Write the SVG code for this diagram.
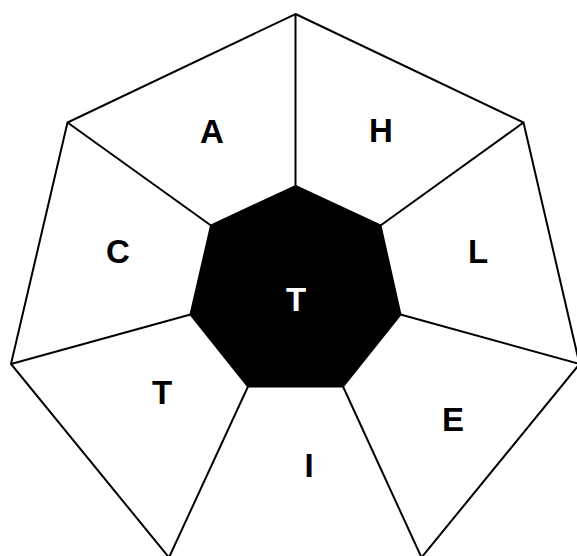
<svg xmlns="http://www.w3.org/2000/svg" width="577" height="556" viewBox="0 0 577 556">
<style>
.edge{fill:none;stroke:#000;stroke-width:2;stroke-linejoin:miter}
.lbl{font-family:"Liberation Sans",Arial,sans-serif;font-weight:bold;font-size:33px;text-anchor:middle;fill:#000}
.ctr{fill:#fff}
</style>
<rect width="577" height="556" fill="#fff"/>
<g id="connectors">
<polygon class="edge" points="295.5,14 523.5,122.5 579.5,364 421.5,557.5 169,557.5 11,364 67.5,122.5"/>
<line class="edge" x1="295.5" y1="14" x2="295.5" y2="186"/>
<line class="edge" x1="523.5" y1="122.5" x2="380.5" y2="225.5"/>
<line class="edge" x1="579.5" y1="364" x2="400.5" y2="314.5"/>
<line class="edge" x1="421.5" y1="557.5" x2="343" y2="386.5"/>
<line class="edge" x1="169" y1="557.5" x2="248" y2="386.5"/>
<line class="edge" x1="11" y1="364" x2="190.5" y2="314.5"/>
<line class="edge" x1="67.5" y1="122.5" x2="211" y2="225.5"/>
</g>
<g id="center">
<polygon points="295.5,186 380.5,225.5 400.5,314.5 343,386.5 248,386.5 190.5,314.5 211,225.5" fill="#000" stroke="#000" stroke-width="2"/>
<text class="lbl ctr" x="296" y="311">T</text>
</g>
<g id="node-A"><text class="lbl" x="212" y="143">A</text></g>
<g id="node-H"><text class="lbl" x="381" y="142">H</text></g>
<g id="node-L"><text class="lbl" x="478" y="263">L</text></g>
<g id="node-E"><text class="lbl" x="453" y="431">E</text></g>
<g id="node-I"><text class="lbl" x="309" y="477">I</text></g>
<g id="node-T"><text class="lbl" x="162" y="404">T</text></g>
<g id="node-C"><text class="lbl" x="118" y="263">C</text></g>
</svg>
